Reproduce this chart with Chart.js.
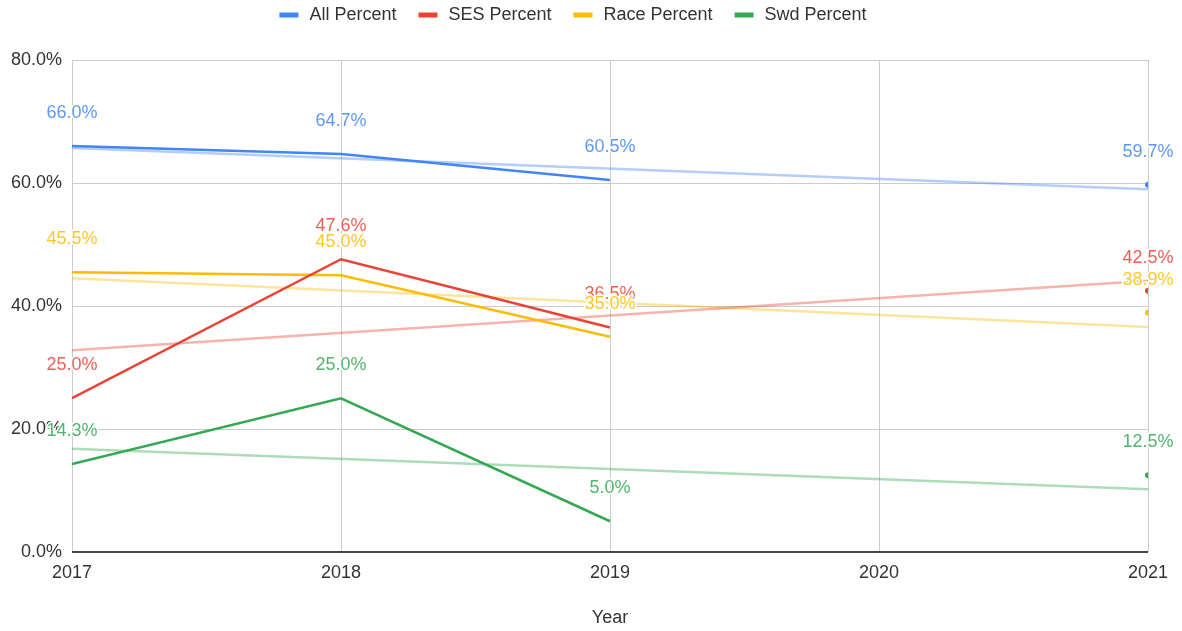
<!DOCTYPE html>
<html>
<head>
<meta charset="utf-8">
<script src="https://cdn.jsdelivr.net/npm/chart.js@4"></script>
<style>
html, body { margin: 0; padding: 0; background: #fff; }
</style>
</head>
<body>
<canvas id="chart" width="1182" height="631"></canvas>
<script>
const years = [2017, 2018, 2019, 2020, 2021];
const allPercent = [66.0, 64.7, 60.5, null, 59.7];
const sesPercent = [25.0, 47.6, 36.5, null, 42.5];
const racePercent = [45.5, 45.0, 35.0, null, 38.9];
const swdPercent = [14.3, 25.0, 5.0, null, 12.5];

// trendline ends (at 2017 and 2021)
const trendYears = [2017, 2021];
const allTrend = [65.7, 59.0];
const sesTrend = [32.8, 44.1];
const raceTrend = [44.5, 36.6];
const swdTrend = [16.8, 10.2];

const seriesNames = ['All Percent', 'SES Percent', 'Race Percent', 'Swd Percent'];
const seriesColors = ['#4285f4', '#ea4335', '#fbbc04', '#34a853'];
const trendColors = ['rgba(66,133,244,0.4)', 'rgba(234,67,53,0.4)', 'rgba(251,188,4,0.4)', 'rgba(52,168,83,0.4)'];

const FONT = 'Arial, "Liberation Sans", sans-serif';

function toPoints(xs, ys) {
    return xs.map((x, i) => ({ x: x, y: ys[i] }));
}

// a point is drawn only when it has no neighbour to connect to
function isolatedRadius(ctx) {
    const d = ctx.dataset.data;
    const i = ctx.dataIndex;
    if (d[i].y === null) return 0;
    const prev = i > 0 ? d[i - 1].y : null;
    const next = i < d.length - 1 ? d[i + 1].y : null;
    return (prev === null && next === null) ? 3 : 0;
}

const mainValues = [allPercent, sesPercent, racePercent, swdPercent];
const trendValues = [allTrend, sesTrend, raceTrend, swdTrend];

let datasets = [];
mainValues.forEach((vals, k) => {
    datasets.push({
        label: seriesNames[k],
        data: toPoints(years, vals),
        borderColor: seriesColors[k],
        backgroundColor: seriesColors[k],
        borderWidth: 2.5,
        pointRadius: isolatedRadius,
        pointBorderWidth: 0,
        spanGaps: false,
        tension: 0,
        order: 0,
        showLabels: true
    });
});
trendValues.forEach((vals, k) => {
    datasets.push({
        label: seriesNames[k] + ' trend',
        data: toPoints(trendYears, vals),
        borderColor: trendColors[k],
        borderWidth: 2.5,
        pointRadius: 0,
        tension: 0,
        order: 1,
        isTrend: true
    });
});

const valueLabels = {
    id: 'valueLabels',
    afterDatasetsDraw(chart) {
        const ctx = chart.ctx;
        ctx.save();
        ctx.font = '18px ' + FONT;
        ctx.textAlign = 'center';
        ctx.textBaseline = 'middle';
        ctx.lineJoin = 'round';
        chart.data.datasets.forEach((ds, di) => {
            if (!ds.showLabels) return;
            const meta = chart.getDatasetMeta(di);
            meta.data.forEach((pt, i) => {
                const v = ds.data[i].y;
                if (v === null) return;
                const txt = v.toFixed(1) + '%';
                ctx.lineWidth = 3;
                ctx.strokeStyle = '#fff';
                ctx.strokeText(txt, pt.x, pt.y - 33);
                ctx.globalAlpha = 0.85;
                ctx.fillStyle = ds.borderColor;
                ctx.fillText(txt, pt.x, pt.y - 33);
                ctx.globalAlpha = 1;
            });
        });
        ctx.restore();
    }
};

const topLegend = {
    id: 'topLegend',
    afterDraw(chart) {
        const ctx = chart.ctx;
        ctx.save();
        ctx.font = '18px ' + FONT;
        ctx.textBaseline = 'middle';
        const items = chart.data.datasets.filter(ds => ds.showLabels);
        const boxW = 19, gap = 11, spacing = 22;
        let total = 0;
        items.forEach((ds, i) => {
            total += boxW + gap + ctx.measureText(ds.label).width;
            if (i < items.length - 1) total += spacing;
        });
        let x = 573 - total / 2;
        const y = 15;
        items.forEach(ds => {
            ctx.fillStyle = ds.borderColor;
            ctx.fillRect(x, y - 2.5, boxW, 5);
            x += boxW + gap;
            ctx.fillStyle = '#333';
            ctx.fillText(ds.label, x, y);
            x += ctx.measureText(ds.label).width + spacing;
        });
        ctx.restore();
    }
};

const ctx = document.getElementById('chart').getContext('2d');
const chart = new Chart(ctx, {
    type: 'line',
    data: { datasets: datasets },
    options: {
        responsive: false,
        animation: false,
        layout: { padding: { top: 60, right: 34, left: 0, bottom: 0 } },
        plugins: {
            legend: { display: false },
            tooltip: { enabled: false }
        },
        scales: {
            x: {
                type: 'linear',
                min: 2017,
                max: 2021,
                afterFit: s => { s.height = 79; },
                ticks: {
                    stepSize: 1,
                    padding: 10,
                    color: '#333',
                    font: { size: 18, family: FONT },
                    callback: v => String(v)
                },
                grid: { color: '#ccc', lineWidth: 1, drawTicks: false },
                border: { display: false },
                title: {
                    display: true,
                    text: 'Year',
                    color: '#333',
                    font: { size: 18, family: FONT },
                    padding: { top: 0, bottom: 2 }
                }
            },
            y: {
                min: 0,
                max: 80,
                afterFit: s => { s.width = 72; },
                ticks: {
                    stepSize: 20,
                    padding: 10,
                    color: '#333',
                    font: { size: 18, family: FONT },
                    callback: v => v.toFixed(1) + '%'
                },
                grid: {
                    drawTicks: false,
                    color: c => c.tick && c.tick.value === 0 ? '#444' : '#ccc',
                    lineWidth: c => c.tick && c.tick.value === 0 ? 2 : 1
                },
                border: { display: false }
            }
        }
    },
    plugins: [valueLabels, topLegend]
});
</script>
</body>
</html>
